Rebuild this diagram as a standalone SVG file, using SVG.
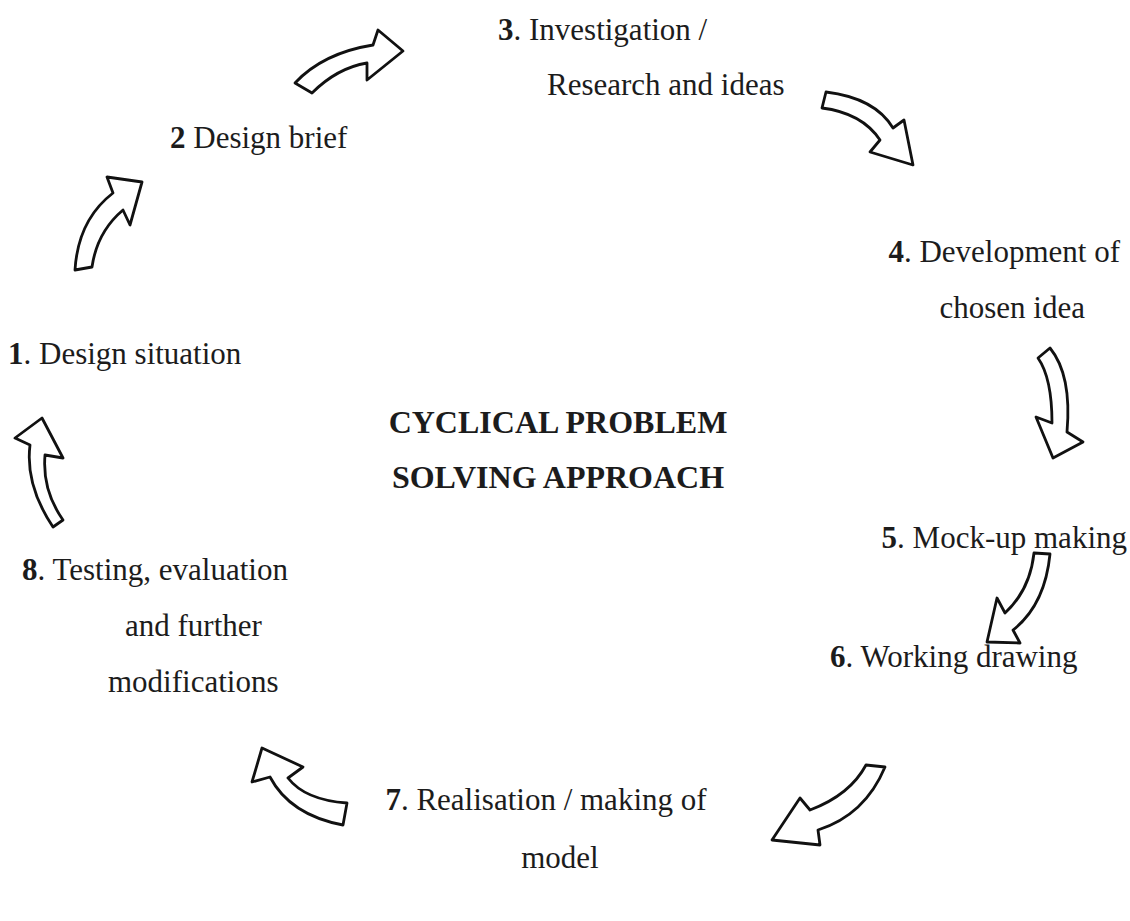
<svg xmlns="http://www.w3.org/2000/svg" width="1130" height="921" viewBox="0 0 1130 921">
  <style>
    .lbl { font-family: "Liberation Serif", "Times New Roman", serif; font-size: 31px; fill: #1c1c1c; }
    .num { font-weight: bold; }
    .title { font-family: "Liberation Serif", "Times New Roman", serif; font-size: 32px; font-weight: bold; fill: #1c1c1c; text-anchor: middle; }
    .arrow { fill: #ffffff; stroke: #111111; stroke-width: 2.8; stroke-linejoin: round; }
  </style>
  <rect width="1130" height="921" fill="#ffffff"/>

  <!-- block arrows between the stages -->
  <g id="connectors">
    <path id="a1-2" class="arrow" d="M75,270 Q78,220 113,193 L107,177 L142,182 L130,225 L123,210 Q97,232 92,267 Z"/>
    <path id="a2-3" class="arrow" d="M295,83 Q323,53 373,45 L378,30 L403,51 L367,80 L367,63 Q337,68 312,93 Z"/>
    <path id="a3-4" class="arrow" d="M826,92 Q875,98 893,128 L904,120 L913,165 L870,152 L880,140 Q862,113 822,108 Z"/>
    <path id="a4-5" class="arrow" d="M1050,348 Q1072,375 1067,432 L1083,442 L1053,458 L1036,417 L1052,423 Q1052,378 1038,358 Z"/>
    <path id="a5-6" class="arrow" d="M1034,553 L1050,554 Q1045,605 1013,630 L1020,643 L987,642 L997,598 L1005,613 Q1030,590 1034,553 Z"/>
    <path id="a6-7" class="arrow" d="M866,765 L885,767 Q865,815 818,830 L820,845 L772,840 L800,798 L810,810 Q850,795 866,765 Z"/>
    <path id="a7-8" class="arrow" d="M262,748 L303,767 L288,778 Q305,800 347,803 L343,825 Q290,815 270,777 L252,782 Z"/>
    <path id="a8-1" class="arrow" d="M53,527 Q25,485 30,445 L15,438 L42,418 L63,458 L45,455 Q42,490 63,520 Z"/>
  </g>

  <g id="title">
    <text class="title" x="558" y="433">CYCLICAL PROBLEM</text>
    <text class="title" x="558" y="488">SOLVING APPROACH</text>
  </g>

  <g id="stage1">
    <text class="lbl" x="8" y="364"><tspan class="num">1</tspan>. Design situation</text>
  </g>
  <g id="stage2">
    <text class="lbl" x="170" y="148"><tspan class="num">2</tspan> Design brief</text>
  </g>
  <g id="stage3">
    <text class="lbl" x="498" y="40"><tspan class="num">3</tspan>. Investigation /</text>
    <text class="lbl" x="547" y="95">Research and ideas</text>
  </g>
  <g id="stage4">
    <text class="lbl" x="1120" y="262" text-anchor="end"><tspan class="num">4</tspan>. Development of</text>
    <text class="lbl" x="1085" y="318" text-anchor="end">chosen idea</text>
  </g>
  <g id="stage5">
    <text class="lbl" x="1127" y="548" text-anchor="end"><tspan class="num">5</tspan>. Mock-up making</text>
  </g>
  <g id="stage6">
    <text class="lbl" x="830" y="667"><tspan class="num">6</tspan>. Working drawing</text>
  </g>
  <g id="stage7">
    <text class="lbl" x="546" y="810" text-anchor="middle"><tspan class="num">7</tspan>. Realisation / making of</text>
    <text class="lbl" x="560" y="868" text-anchor="middle">model</text>
  </g>
  <g id="stage8">
    <text class="lbl" x="22" y="580"><tspan class="num">8</tspan>. Testing, evaluation</text>
    <text class="lbl" x="125" y="636">and further</text>
    <text class="lbl" x="108" y="692">modifications</text>
  </g>
</svg>
